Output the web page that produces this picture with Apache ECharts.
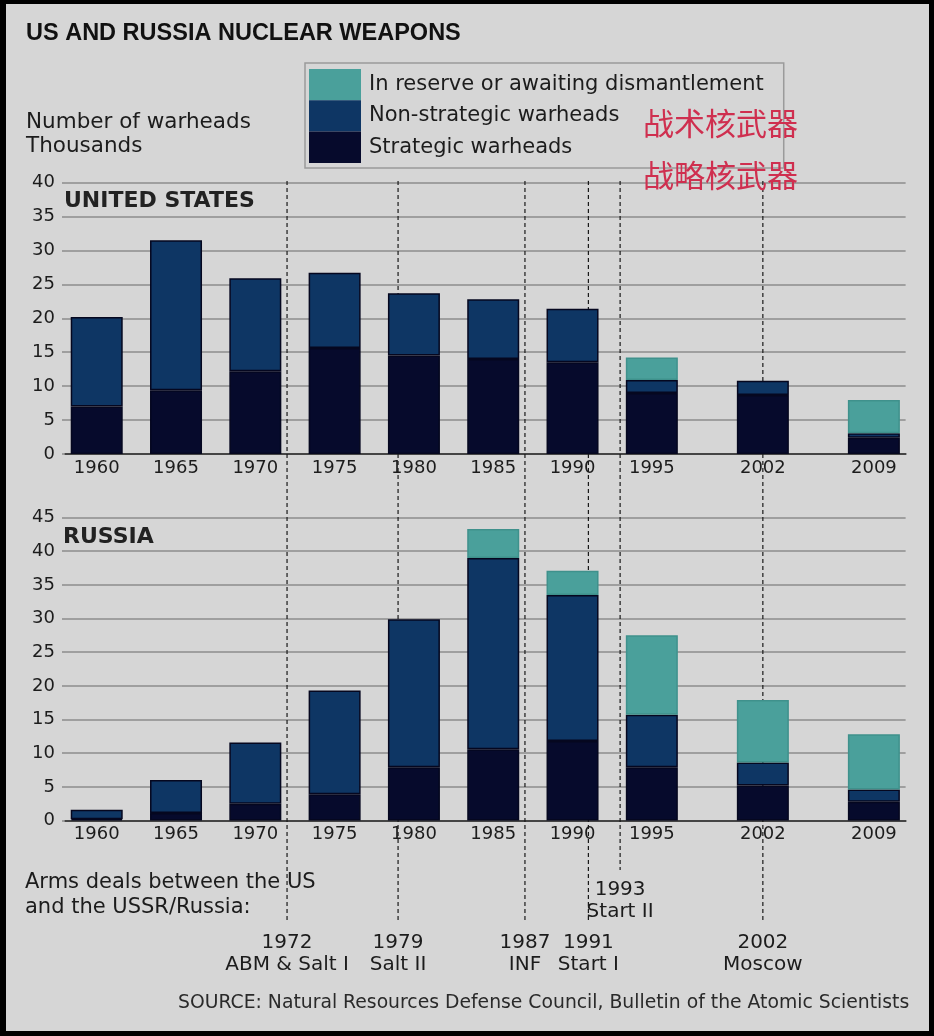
<!DOCTYPE html>
<html><head><meta charset="utf-8">
<script src="https://cdn.jsdelivr.net/npm/echarts@6/dist/echarts.min.js"></script>
<style>
html,body{margin:0;padding:0;background:#000;width:934px;height:1036px;overflow:hidden}
#panel{position:absolute;left:6px;top:4px;width:923px;height:1027px;background:#d6d6d6}
#chart{position:absolute;left:0;top:0;width:934px;height:1036px}
</style></head><body><div id="panel"></div><div id="chart"></div>
<script>
// ---- data (thousands of warheads) ----
const years = [1960, 1965, 1970, 1975, 1980, 1985, 1990, 1995, 2002, 2009];
const usStrategic    = [7.0, 9.4, 12.2, 15.6, 14.5, 14.0, 13.5, 9.0, 8.7, 2.4];
const usNonStrategic = [13.2, 22.1, 13.7, 11.1, 9.2, 8.8, 7.9, 1.9, 2.1, 0.65];
const usReserve      = [null, null, null, null, null, null, null, 3.3, null, 4.9];
const ruStrategic    = [0.2, 1.1, 2.5, 3.9, 7.9, 10.6, 11.8, 7.9, 5.2, 2.8];
const ruNonStrategic = [1.4, 4.9, 9.1, 15.4, 22.0, 28.4, 21.7, 7.8, 3.4, 1.8];
const ruReserve      = [null, null, null, null, null, 4.3, 3.6, 11.8, 9.3, 8.2];
const usYTicks = [0, 5, 10, 15, 20, 25, 30, 35, 40];
const ruYTicks = [0, 5, 10, 15, 20, 25, 30, 35, 40, 45];
const seriesNames = ['In reserve or awaiting dismantlement', 'Non-strategic warheads', 'Strategic warheads'];
const dealYears = [1972, 1979, 1987, 1991, 1993, 2002];
const dealNames = ['ABM & Salt I', 'Salt II', 'INF', 'Start I', 'Start II', 'Moscow'];
const dealRow   = [0, 0, 0, 0, 1, 0]; // 1 = label sits in the upper row
const xMin = 1958, xMax = 2011;

// year axis: one category per calendar year so the spacing follows time
const axisYears = [];
for (let y = xMin; y <= xMax; y++) axisYears.push(String(y));

// ---- styling ----
const C_RES = '#4aa09b', C_NON = '#0e3664', C_STR = '#060a2c';
const TXT = '#1c1c1c';
const FONT = "'DejaVu Sans', sans-serif";
const GRID_L = 65, GRID_R = 28.4;

function onAxis(vals) {
  return axisYears.map(y => { const i = years.indexOf(+y); return i >= 0 ? vals[i] : null; });
}
function xAxis(gi) {
  return {
    type: 'category', gridIndex: gi, data: axisYears, boundaryGap: false,
    splitLine: { show: false }, axisTick: { show: false },
    axisLine: { show: true, onZero: false, lineStyle: { color: '#454545', width: 2 } },
    axisLabel: {
      interval: 0, margin: 5, color: TXT, fontFamily: FONT, fontSize: 18,
      formatter: v => years.indexOf(+v) >= 0 ? v : ''
    }
  };
}
function yAxis(gi, ticks) {
  return {
    type: 'value', gridIndex: gi, min: ticks[0], max: ticks[ticks.length - 1],
    interval: ticks[1] - ticks[0],
    axisLine: { show: false },
    axisTick: { show: true, length: 3, lineStyle: { color: '#8c8c8c', width: 1.5 } },
    splitLine: { lineStyle: { color: '#8c8c8c', width: 1.5 } },
    axisLabel: { margin: 10, color: TXT, fontFamily: FONT, fontSize: 18 }
  };
}
function bars(ax, stack, vals, name, color, border) {
  return {
    type: 'bar', name: name, xAxisIndex: ax, yAxisIndex: ax, stack: stack,
    barWidth: 52, data: onAxis(vals), z: 3,
    itemStyle: { color: color, borderColor: border, borderWidth: 1.5 }
  };
}

const chart = echarts.init(document.getElementById('chart'), null, { renderer: 'canvas' });
chart.setOption({
  backgroundColor: 'transparent',
  animation: false,
  title: [
    { text: 'US AND RUSSIA NUCLEAR WEAPONS', left: 26, top: 21, padding: 0,
      textStyle: { fontFamily: "'Liberation Sans', Arial, sans-serif", fontWeight: 'bold', fontSize: 23.5, lineHeight: 26, color: '#111' } },
    { text: 'Number of warheads\nThousands', left: 26, top: 110, padding: 0,
      textStyle: { fontFamily: FONT, fontWeight: 'normal', fontSize: 21.5, lineHeight: 24, color: TXT } },
    { text: 'UNITED STATES', left: 64, top: 188, padding: 0,
      textStyle: { fontFamily: FONT, fontWeight: 'bold', fontSize: 22, lineHeight: 26, color: '#222' } },
    { text: 'RUSSIA', left: 63, top: 524, padding: 0,
      textStyle: { fontFamily: FONT, fontWeight: 'bold', fontSize: 22, lineHeight: 26, color: '#222' } },
    { text: '战术核武器\n战略核武器', left: 643, top: 97, padding: 0,
      textStyle: { fontFamily: "'Noto Sans CJK SC', sans-serif", fontWeight: 'normal', fontSize: 31, lineHeight: 52, color: '#cf2f4f' } },
    { text: 'Arms deals between the US\nand the USSR/Russia:', left: 25, top: 870, padding: 0,
      textStyle: { fontFamily: FONT, fontWeight: 'normal', fontSize: 21, lineHeight: 25, color: TXT } },
    { text: 'SOURCE: Natural Resources Defense Council, Bulletin of the Atomic Scientists', left: 178, top: 992, padding: 0,
      textStyle: { fontFamily: FONT, fontWeight: 'normal', fontSize: 18.8, lineHeight: 22, color: '#2a2a2a' } }
  ],
  legend: {
    orient: 'vertical', left: 305, top: 63, padding: [6, 20, 5, 4],
    itemWidth: 52, itemHeight: 31.3, itemGap: 0, selectedMode: false,
    borderColor: '#9b9b9b', borderWidth: 1.5,
    data: seriesNames.map(n => ({ name: n, icon: 'rect' })),
    itemStyle: { borderWidth: 0 },
    textStyle: { fontFamily: FONT, fontSize: 21, color: TXT, padding: [4, 0, 0, 3] }
  },
  grid: [
    { left: GRID_L, right: GRID_R, top: 182.5, height: 271.5 },
    { left: GRID_L, right: GRID_R, top: 517.5, height: 303 },
    { left: GRID_L, right: GRID_R, top: 181, height: 742 }
  ],
  xAxis: [xAxis(0), xAxis(1),
          { type: 'value', gridIndex: 2, min: xMin, max: xMax, show: false, splitLine: { show: false } }],
  yAxis: [yAxis(0, usYTicks), yAxis(1, ruYTicks),
          { type: 'value', gridIndex: 2, min: 0, max: 1, show: false, splitLine: { show: false } }],
  series: [
    bars(0, 'us', usStrategic, seriesNames[2], C_STR, '#05071f'),
    bars(0, 'us', usNonStrategic, seriesNames[1], C_NON, '#05071f'),
    bars(0, 'us', usReserve, seriesNames[0], C_RES, '#3f918c'),
    bars(1, 'ru', ruStrategic, seriesNames[2], C_STR, '#05071f'),
    bars(1, 'ru', ruNonStrategic, seriesNames[1], C_NON, '#05071f'),
    bars(1, 'ru', ruReserve, seriesNames[0], C_RES, '#3f918c'),
    {
      type: 'custom', name: 'deals', xAxisIndex: 2, yAxisIndex: 2, z: 1,
      data: dealYears.map((y, i) => [y, dealRow[i], i]),
      renderItem: function (params, api) {
        const yr = api.value(0), row = api.value(1), idx = api.value(2);
        const x = api.coord([yr, 1])[0];
        const top = params.coordSys.y;
        const bottom = params.coordSys.y + params.coordSys.height;
        const end = row ? bottom - 53 : bottom;
        return {
          type: 'group', children: [
            { type: 'line', shape: { x1: x, y1: top, x2: x, y2: end },
              style: { stroke: '#1a1a1a', lineWidth: 1.2, lineDash: [4, 3] } },
            { type: 'text', x: x, y: end + 9,
              style: { text: yr + '\n' + dealNames[idx], align: 'center', verticalAlign: 'top',
                       fontFamily: FONT, fontSize: 20, lineHeight: 22, fill: TXT } }
          ]
        };
      }
    }
  ]
});
</script></body></html>
